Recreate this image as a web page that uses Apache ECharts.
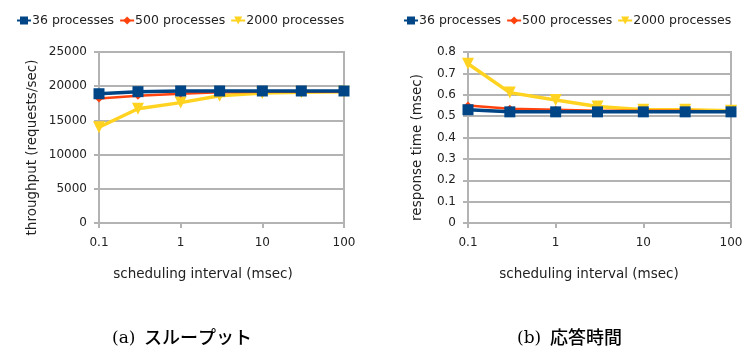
<!DOCTYPE html>
<html><head><meta charset="utf-8">
<script src="https://cdn.jsdelivr.net/npm/echarts@6/dist/echarts.min.js"></script>
<style>html,body{margin:0;padding:0;background:#fff}#c{width:751px;height:349px}</style>
</head><body><div id="c"></div>
<script>
const intervals = [0.1, 0.3, 1, 3, 10, 30, 100];
const seriesNames = ['36 processes', '500 processes', '2000 processes'];
const thr36 = [18900, 19200, 19300, 19300, 19300, 19300, 19300];
const thr500 = [18200, 18600, 18900, 19100, 19200, 19200, 19200];
const thr2000 = [14000, 16700, 17600, 18600, 19000, 19100, 19200];
const rt36 = [0.53, 0.52, 0.52, 0.52, 0.52, 0.52, 0.52];
const rt500 = [0.55, 0.535, 0.53, 0.525, 0.525, 0.525, 0.52];
const rt2000 = [0.745, 0.61, 0.575, 0.545, 0.53, 0.53, 0.525];
const captionA = ['(a)', 'スループット'];
const captionB = ['(b)', '応答時間'];

const colors = ['#004586', '#ff420e', '#ffd320'];
const font = 'DejaVu Sans';
const grey = '#b3b3b3';
const txt = '#222';

function pairs(vals){ return intervals.map((x,i)=>[x, vals[i]]); }

function mkSeries(vals, idx, g){
  const styles = [
    {symbol:'rect', symbolSize:11, width:3.5, z:5},
    {symbol:'diamond', symbolSize:8, width:2.5, z:4},
    {symbol:'triangle', symbolSize:12, symbolRotate:180, width:3.5, z:3}
  ][idx];
  return {
    name: seriesNames[idx], type:'line', xAxisIndex:g, yAxisIndex:g,
    data: pairs(vals), symbol: styles.symbol, symbolSize: styles.symbolSize,
    symbolRotate: styles.symbolRotate || 0, showSymbol:true, z: styles.z,
    lineStyle:{color:colors[idx], width:styles.width},
    itemStyle:{color:colors[idx], borderWidth:0},
    animation:false
  };
}

function xAx(g, offsetPad){
  return {
    type:'log', logBase:10, min:0.1, max:100, gridIndex:g,
    name:'scheduling interval (msec)', nameLocation:'middle', nameGap:44,
    nameTextStyle:{fontFamily:font, fontSize:13.5, color:txt, padding:[0, offsetPad, 0, 0]},
    axisLine:{lineStyle:{color:grey, width:2}},
    axisTick:{show:true, length:5, lineStyle:{color:grey, width:2}},
    minorTick:{show:false},
    splitLine:{show:false},
    axisLabel:{fontFamily:font, fontSize:12, color:txt, margin:14,
      formatter:v=>{ const r = Math.round(v*10)/10; return String(r); }}
  };
}
function yAx(g, name, max, interval, dec){
  return {
    type:'value', min:0, max:max, interval:interval, gridIndex:g,
    name:name, nameLocation:'middle', nameGap: g===0?60:44, nameRotate:90,
    nameTextStyle:{fontFamily:font, fontSize:13.5, color:txt, padding:[0,0,0,-20]},
    axisLine:{show:true, lineStyle:{color:grey, width:2}},
    axisTick:{show:true, length:5, lineStyle:{color:grey, width:2}},
    splitLine:{show:true, lineStyle:{color:grey, width:2}},
    axisLabel:{fontFamily:font, fontSize:12, color:txt, margin:12,
      formatter:v=> dec ? (v===0?'0':v.toFixed(1)) : String(v)}
  };
}

const chart = echarts.init(document.getElementById('c'), null, {renderer:'canvas'});
const serifStyle = {fontFamily:'DejaVu Serif', fontSize:17, fontWeight:'normal', color:'#000'};
const jpStyle = {fontFamily:'Noto Sans CJK JP', fontSize:18, fontWeight:500, color:'#000'};
chart.setOption({
  animation:false,
  color: colors,
  grid:[
    {left:99, right:407, top:52, bottom:126, show:true, borderColor:grey, borderWidth:2, backgroundColor:'transparent'},
    {left:468, right:20, top:52, bottom:126, show:true, borderColor:grey, borderWidth:2, backgroundColor:'transparent'}
  ],
  legend:[
    {data:seriesNames, left:11, top:9, itemWidth:14, itemHeight:10, itemGap:5,
     textStyle:{fontFamily:font, fontSize:12.5, color:txt, padding:[0,0,0,-4]}},
    {data:seriesNames, left:398, top:9, itemWidth:14, itemHeight:10, itemGap:5,
     textStyle:{fontFamily:font, fontSize:12.5, color:txt, padding:[0,0,0,-4]}}
  ],
  xAxis:[xAx(0, 37), xAx(1, 21)],
  yAxis:[yAx(0,'throughput (requests/sec)',25000,5000,false), yAx(1,'response time (msec)',0.8,0.1,true)],
  series:[
    mkSeries(thr36,0,0), mkSeries(thr500,1,0), mkSeries(thr2000,2,0),
    mkSeries(rt36,0,1), mkSeries(rt500,1,1), mkSeries(rt2000,2,1)
  ],
  title:[
    {text:captionA[0], left:112, top:330, padding:0, textStyle:serifStyle},
    {text:captionA[1], left:144, top:328, padding:0, textStyle:jpStyle},
    {text:captionB[0], left:517, top:330, padding:0, textStyle:serifStyle},
    {text:captionB[1], left:550, top:328, padding:0, textStyle:jpStyle}
  ]
});
</script></body></html>
